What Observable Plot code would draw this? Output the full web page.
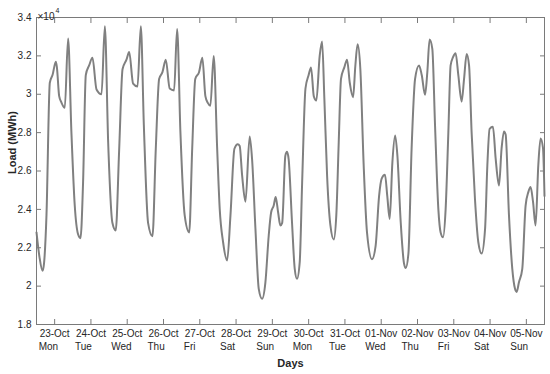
<!DOCTYPE html>
<html><head><meta charset="utf-8">
<script src="https://cdn.jsdelivr.net/npm/d3@7"></script>
<script src="https://cdn.jsdelivr.net/npm/@observablehq/plot@0.6"></script>
<style>body{margin:0;background:#fff}</style>
</head><body><div id="chart"></div>
<script>
// Hourly load readings: [hours since 23-Oct 00:00, load in MWh]
const loadReadings = [
[0,22800],[2,21500],[4,20800],[5,21200],[6.6,23700],[8.8,30600],[10.6,31000],[12.8,31700],[13.5,31400],[15,29900],[16.5,29570],[18.7,29300],[20.9,32900],[23.1,28000],
[25.3,24200],[27.5,22700],[29.1,22500],[30.8,25400],[32.6,31000],[34.8,31500],[37,31900],[39.7,30250],[43,30000],[45.2,33550],[47.4,27500],
[50.2,23300],[52.4,22900],[54.7,27160],[56.9,31300],[59.5,31800],[61.3,32200],[63.9,30550],[66.8,30400],[69,33550],[71,28400],
[73.8,23300],[76.7,22600],[78.9,27160],[81.1,30800],[83.3,31150],[85.5,31800],[88.1,30300],[91,30200],[93,33400],[95.2,28000],
[98,23700],[101,22800],[103,27200],[105,30800],[107.5,31150],[109.7,31900],[111.7,29900],[113.3,29550],[115,29400],[117.2,32000],[119.5,27160],
[121.2,24000],[123.4,22300],[126.1,21340],[128.3,23700],[130.9,27160],[133.1,27400],[134.4,27300],[136,25770],[138.2,24400],[141,27800],[142.6,26600],
[144.8,23000],[147,19860],[149.2,19340],[151.4,20200],[153.6,22640],[155.2,23850],[156.9,24200],[158.2,24640],[159.8,23850],[161.3,23160],[162.5,23300],[164.6,26800],[165.7,27000],[166.8,26600],
[169,23330],[170.8,20900],[172.3,20380],[174.1,21250],[175.7,25400],[177.9,30300],[180,31000],[181.6,31400],[183.4,29900],[185.1,29670],[187.3,32000],[188.9,32750],[190.4,29760],
[192.2,25770],[194.4,23160],[196.6,22430],[198.3,23700],[199.9,27500],[201.4,30800],[203.6,31400],[205.4,31800],[207.2,30600],[209.4,29850],[210.9,31500],[212.4,32600],[214.2,31300],
[216.4,26300],[218.6,22800],[221.9,21400],[224.3,22100],[226.6,24700],[228.3,25600],[230.5,25800],[232,24700],[233.6,23500],[235.4,26460],[237.2,27850],[238.7,26800],
[240.9,23330],[243.1,21170],[244.2,20940],[246,21700],[248.1,27160],[250.4,30800],[253,31500],[254.8,31000],[257,29970],[258.5,31150],[260,32850],[261.8,32370],[263.6,28370],
[265.8,24000],[267.3,22800],[268.9,22550],[270.6,24000],[272.4,28000],[273.9,31500],[275.5,31930],[277.2,32140],[279,31000],[281.2,29620],[282.8,30800],[284.5,32100],[286.1,31500],[287.8,28000],
[290,24550],[292.2,22300],[294.4,21700],[296.7,23000],[298.2,26300],[299.7,28200],[301.9,28300],[303.7,26640],[305.9,25240],[307.6,27160],[309.2,28060],[310.3,27900],
[312.5,23700],[314.7,20900],[316.5,19860],[317.6,19700],[319.1,20200],[321.3,20900],[323.5,24200],[325.3,24900],[326.8,25160],[328.4,24400],[330.1,23160],[331.9,26300],[333.4,27700],[335,27200],[336,24700]
];
const dayDates = ["23-Oct","24-Oct","25-Oct","26-Oct","27-Oct","28-Oct","29-Oct","30-Oct","31-Oct","01-Nov","02-Nov","03-Nov","04-Nov","05-Nov"];
const dayNames = ["Mon","Tue","Wed","Thu","Fri","Sat","Sun","Mon","Tue","Wed","Thu","Fri","Sat","Sun"];
const yTicks = [18000,20000,22000,24000,26000,28000,30000,32000,34000];

const data = loadReadings.map(([h, load]) => ({h, load}));
const days = dayDates.map((date, i) => ({h: i * 24 + 12, date, name: dayNames[i]}));
const tickHours = days.map(d => d.h);
const font = "'Liberation Sans', Arial, Helvetica, sans-serif";
const axisColor = "#7a7a7a";
const textColor = "#262626";
const yFmt = d => String(+(d / 1e4).toFixed(1));

const chart = Plot.plot({
  width: 550, height: 374,
  marginLeft: 36, marginRight: 6, marginTop: 17, marginBottom: 50,
  style: {fontFamily: font, fontSize: "10px", color: textColor, background: "#fff"},
  x: {domain: [0, 336]},
  y: {domain: [18000, 34000]},
  marks: [
    Plot.line(data, {x: "h", y: "load", stroke: "#808080", strokeWidth: 2, curve: "monotone-x"}),
    Plot.frame({stroke: axisColor}),
    Plot.axisX(tickHours, {anchor: "bottom", tickSize: -5, tickFormat: () => "", stroke: axisColor, label: null}),
    Plot.axisX(tickHours, {anchor: "top", tickSize: -5, tickFormat: () => "", stroke: axisColor, label: null}),
    Plot.text(days, {x: "h", text: "date", frameAnchor: "bottom", dy: 12, fill: textColor}),
    Plot.text(days, {x: "h", text: "name", frameAnchor: "bottom", textAnchor: "start", dx: -16, dy: 25, fill: textColor}),
    Plot.axisY(yTicks, {anchor: "left", tickSize: -5, tickPadding: 10, tickFormat: yFmt, stroke: axisColor, label: null}),
    Plot.axisY(yTicks, {anchor: "right", tickSize: -5, tickFormat: () => "", stroke: axisColor, label: null}),
    Plot.text(["Load (MWh)"], {text: d => d, frameAnchor: "left", rotate: -90, dx: -24, dy: 3, fontWeight: "bold", fontSize: 11, fill: textColor}),
    Plot.text(["Days"], {text: d => d, frameAnchor: "bottom", dy: 42, fontWeight: "bold", fontSize: 11, fill: textColor}),
    Plot.text(["×10"], {text: d => d, frameAnchor: "top-left", textAnchor: "start", dx: 1, dy: -5, fontSize: 10, fill: textColor}),
    Plot.text(["4"], {text: d => d, frameAnchor: "top-left", textAnchor: "start", dx: 19, dy: -9, fontSize: 7, fill: textColor})
  ]
});
document.getElementById("chart").append(chart);
</script>
</body></html>
